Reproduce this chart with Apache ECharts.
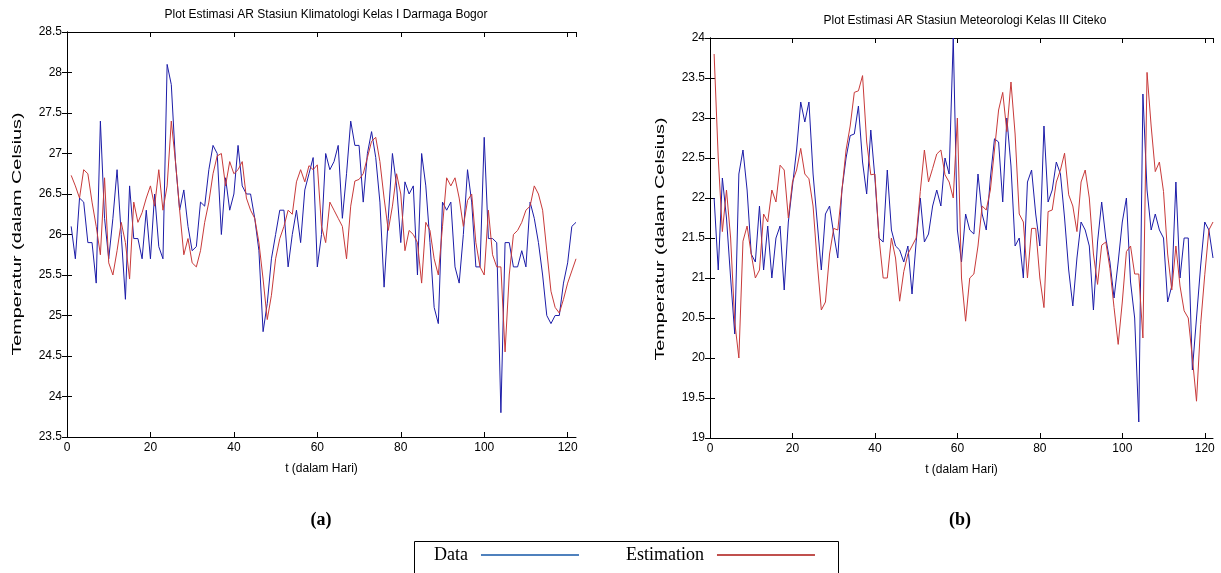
<!DOCTYPE html>
<html>
<head>
<meta charset="utf-8">
<title>Plot Estimasi AR</title>
<script src="https://cdn.jsdelivr.net/npm/echarts@6/dist/echarts.min.js"></script>
<style>
  html, body { margin: 0; padding: 0; background: #fff; }
  #main { width: 1221px; height: 573px; }
</style>
</head>
<body>
<div id="main"></div>
<script>
// (a) Stasiun Klimatologi Kelas I Darmaga Bogor
const bogorData = [
  26.1, 25.7, 26.45, 26.4, 25.9, 25.9, 25.4, 27.4, 26.2, 25.7,
  26.2, 26.8, 26.0, 25.2, 26.6, 25.95, 25.95, 25.7, 26.3, 25.7,
  26.5, 25.85, 25.7, 28.1, 27.85, 26.9, 26.3, 26.55, 26.1, 25.8,
  25.85, 26.4, 26.35, 26.8, 27.1, 27.0, 26.0, 26.7, 26.3, 26.5,
  27.1, 26.6, 26.5, 26.5, 26.2, 25.8, 24.8, 25.15, 25.7, 26.0,
  26.3, 26.3, 25.6, 26.0, 26.3, 25.9, 26.55, 26.75, 26.95, 25.6,
  26.0, 27.0, 26.8, 26.9, 27.1, 26.2, 26.75, 27.4, 27.1, 27.1,
  26.4, 27.0, 27.27, 26.95, 26.4, 25.35, 26.2, 27.0, 26.6, 25.9,
  26.65, 26.5, 26.6, 25.5, 27.0, 26.6, 25.9, 25.1, 24.9, 26.4,
  26.3, 26.4, 25.6, 25.4, 26.0, 26.8, 26.4, 25.6, 25.6, 27.2,
  25.95, 25.95, 25.9, 23.8, 25.9, 25.9, 25.6, 25.6, 25.8, 25.6,
  26.4, 26.2, 25.9, 25.5, 25.0, 24.9, 25.0, 25.0, 25.4, 25.65,
  26.1, 26.15
]
const bogorEst = [
  26.73, 26.6, 26.45, 26.8, 26.75, 26.4, 26.1, 25.75, 26.7, 25.65,
  25.5, 25.8, 26.15, 25.9, 25.45, 26.4, 26.15, 26.27, 26.45, 26.6,
  26.35, 26.8, 26.3, 26.6, 27.4, 26.9, 26.3, 25.75, 25.95, 25.65,
  25.6, 25.8, 26.15, 26.4, 26.75, 26.97, 27.0, 26.6, 26.9, 26.75,
  26.8, 26.9, 26.45, 26.3, 26.2, 25.9, 25.45, 24.95, 25.25, 25.7,
  25.95, 26.1, 26.3, 26.25, 26.65, 26.8, 26.65, 26.85, 26.8, 26.86,
  26.1, 25.9, 26.4, 26.3, 26.2, 26.1, 25.7, 26.35, 26.66, 26.68,
  26.75, 26.95, 27.15, 27.2, 26.9, 26.45, 26.05, 26.35, 26.75, 26.5,
  25.8, 26.05, 26.0, 25.9, 25.4, 26.15, 26.05, 25.7, 25.5, 26.1,
  26.7, 26.6, 26.7, 26.45, 26.1, 26.42, 26.5, 25.9, 25.6, 25.5,
  26.3, 25.75, 25.6, 25.6, 24.55, 25.5, 26.0, 26.05, 26.15, 26.3,
  26.35, 26.6, 26.5, 26.3, 25.8, 25.3, 25.1, 25.03, 25.2, 25.4,
  25.55, 25.7
]

// (b) Stasiun Meteorologi Kelas III Citeko
const citekoData = [
  22.0, 21.1, 22.25, 21.75, 21.0, 20.3, 22.3, 22.6, 22.1, 21.3,
  21.2, 21.9, 21.1, 21.65, 21.0, 21.5, 21.65, 20.85, 21.7, 22.15,
  22.6, 23.2, 22.95, 23.2, 22.3, 21.7, 21.1, 21.8, 21.9, 21.55,
  21.25, 22.1, 22.5, 22.78, 22.8, 23.15, 22.45, 22.05, 22.85, 22.25,
  21.5, 21.45, 22.35, 21.6, 21.4, 21.35, 21.2, 21.4, 20.8, 21.45,
  22.0, 21.45, 21.55, 21.9, 22.1, 21.9, 22.5, 22.3, 24.0, 21.6,
  21.2, 21.8, 21.6, 21.55, 22.3, 21.8, 21.6, 22.25, 22.74, 22.7,
  21.95, 23.0, 22.4, 21.4, 21.5, 21.0, 22.2, 22.35, 21.8, 21.4,
  22.9, 21.95, 22.1, 22.45, 22.3, 21.75, 21.1, 20.65, 21.25, 21.7,
  21.6, 21.4, 20.6, 21.45, 21.95, 21.5, 21.2, 20.75, 21.2, 21.7,
  22.0, 20.95, 20.5, 19.2, 23.3, 22.1, 21.6, 21.8, 21.6, 21.5,
  20.7, 20.9, 22.2, 21.0, 21.5, 21.5, 19.85, 20.5, 21.15, 21.7,
  21.6, 21.25
]
const citekoEst = [
  23.8, 22.5, 21.58, 22.1, 21.5, 20.45, 20.0, 21.46, 21.65, 21.3,
  21.0, 21.1, 21.8, 21.7, 22.1, 21.95, 22.41, 22.35, 21.75, 22.2,
  22.35, 22.62, 22.3, 22.24, 21.9, 21.2, 20.6, 20.7, 21.3, 21.62,
  21.6, 22.1, 22.6, 22.9, 23.32, 23.34, 23.53, 22.7, 22.29, 22.3,
  21.5, 21.0, 21.0, 21.5, 21.25, 20.71, 21.08, 21.3, 21.4, 21.5,
  22.08, 22.6, 22.2, 22.37, 22.55, 22.6, 22.29, 22.2, 22.0, 23.0,
  21.0, 20.46, 21.0, 21.05, 21.4, 21.9, 21.85, 22.1, 22.6, 23.1,
  23.32, 22.83, 23.45, 22.8, 21.8, 21.7, 21.0, 21.62, 21.62, 21.0,
  20.63, 21.83, 21.85, 22.2, 22.35, 22.56, 22.04, 21.9, 21.58, 22.2,
  22.35, 22.0, 21.3, 20.92, 21.41, 21.45, 21.12, 20.63, 20.17, 20.7,
  21.33, 21.4, 21.05, 21.05, 20.25, 23.57, 22.9, 22.33, 22.45, 22.08,
  21.3, 20.85, 21.4, 20.9, 20.59, 20.5, 20.0, 19.46, 20.42, 21.04,
  21.6, 21.7
]

// day index t = 1 .. 122
const days = bogorData.map((v, i) => i + 1)

const xTicks = { min: 0, max: 122, interval: 20 }
const bogorTicks = { min: 23.5, max: 28.5, interval: 0.5 }
const citekoTicks = { min: 19, max: 24, interval: 0.5 }

const titles = [
  'Plot Estimasi AR Stasiun Klimatologi Kelas I Darmaga Bogor',
  'Plot Estimasi AR Stasiun Meteorologi Kelas III Citeko'
]
const yName = 'Temperatur (dalam Celsius)'

const blue = '#1c1ca8'
const red = '#c83a3a'
const font = 'Liberation Sans, Arial, sans-serif'
const serif = 'Liberation Serif, Times New Roman, serif'

const chart = echarts.init(document.getElementById('main'))

function pairs (vals) {
  return vals.map((v, i) => [days[i], v])
}

// x axis (bottom with labels, top only with ticks) – matlab style box
function xAxes (gi) {
  const base = {
    gridIndex: gi,
    type: 'value',
    min: xTicks.min,
    max: xTicks.max,
    interval: xTicks.interval,
    axisLine: { show: true, lineStyle: { color: '#000', width: 1 } },
    axisTick: { show: true, inside: true, length: 5, lineStyle: { color: '#000' } },
    splitLine: { show: false }
  }
  return [
    Object.assign({}, base, {
      position: 'bottom',
      name: 't (dalam Hari)',
      nameLocation: 'middle',
      nameGap: 26,
      nameTextStyle: { color: '#000', fontSize: 12, fontFamily: font },
      axisLabel: { color: '#000', fontSize: 12, fontFamily: font, margin: 5, showMaxLabel: false }
    }),
    Object.assign({}, base, {
      position: 'top',
      axisLabel: { show: false }
    })
  ]
}

function yAxes (gi, ticks) {
  const base = {
    gridIndex: gi,
    type: 'value',
    min: ticks.min,
    max: ticks.max,
    interval: ticks.interval,
    axisLine: { show: true, lineStyle: { color: '#000', width: 1 } },
    axisTick: { show: true, inside: true, length: 5, lineStyle: { color: '#000' } },
    splitLine: { show: false }
  }
  return [
    Object.assign({}, base, {
      position: 'left',
      axisLabel: { color: '#000', fontSize: 12, fontFamily: font, margin: 5 }
    }),
    Object.assign({}, base, {
      position: 'right',
      axisLabel: { show: false }
    })
  ]
}

// the y label of the source is drawn stretched along its length
function yLabel (x, y) {
  return {
    type: 'text',
    x: x,
    y: y,
    rotation: Math.PI / 2,
    scaleX: 1.65,
    scaleY: 1,
    style: { text: yName, fill: '#000', font: '12px ' + font, textAlign: 'center', textVerticalAlign: 'middle' }
  }
}

function lineSeries (name, vals, xi, yi, color) {
  return {
    name: name,
    type: 'line',
    xAxisIndex: xi,
    yAxisIndex: yi,
    data: pairs(vals),
    showSymbol: false,
    symbol: 'none',
    animation: false,
    lineStyle: { color: color, width: 1 },
    itemStyle: { color: color }
  }
}

const option = {
  backgroundColor: '#fff',
  animation: false,
  title: [
    {
      text: titles[0],
      left: 321,
      top: 4,
      textAlign: 'center',
      textStyle: { color: '#000', fontSize: 12, fontWeight: 'normal', fontFamily: font }
    },
    {
      text: titles[1],
      left: 960,
      top: 10,
      textAlign: 'center',
      textStyle: { color: '#000', fontSize: 12, fontWeight: 'normal', fontFamily: font }
    }
  ],
  grid: [
    { left: 67, top: 32, width: 509, height: 405 },
    { left: 710, top: 38, width: 503, height: 400 }
  ],
  xAxis: xAxes(0).concat(xAxes(1)),
  yAxis: yAxes(0, bogorTicks).concat(yAxes(1, citekoTicks)),
  legend: {
    left: 434,
    top: 546,
    padding: 0,
    align: 'right',
    icon: 'rect',
    itemWidth: 98,
    itemHeight: 2,
    itemGap: 47,
    textStyle: { color: '#000', fontSize: 18, fontFamily: serif, padding: [0, 8, 0, 0] },
    data: [
      { name: 'Data', itemStyle: { color: '#4f81bd' } },
      { name: 'Estimation', itemStyle: { color: '#c0504d' } }
    ]
  },
  graphic: [
    {
      type: 'rect',
      shape: { x: 414.5, y: 541.5, width: 424, height: 40 },
      style: { fill: 'none', stroke: '#000', lineWidth: 1 }
    },
    yLabel(18, 234),
    yLabel(661, 239),
    {
      type: 'text',
      x: 321,
      y: 520,
      style: { text: '(a)', fill: '#000', font: 'bold 18px ' + serif, textAlign: 'center', textVerticalAlign: 'middle' }
    },
    {
      type: 'text',
      x: 960,
      y: 520,
      style: { text: '(b)', fill: '#000', font: 'bold 18px ' + serif, textAlign: 'center', textVerticalAlign: 'middle' }
    }
  ],
  series: [
    lineSeries('Data', bogorData, 0, 0, blue),
    lineSeries('Estimation', bogorEst, 0, 0, red),
    lineSeries('Data', citekoData, 2, 2, blue),
    lineSeries('Estimation', citekoEst, 2, 2, red)
  ]
}

chart.setOption(option)
</script>
</body>
</html>
